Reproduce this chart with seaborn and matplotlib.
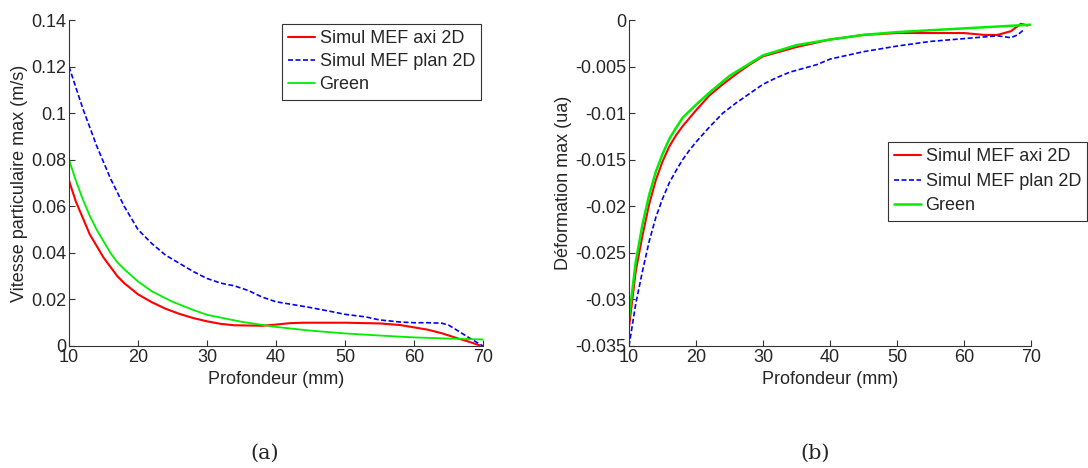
import matplotlib
matplotlib.use("Agg")
import matplotlib.pyplot as plt
import numpy as np
import pandas as pd
import seaborn as sns

# Valeurs
# (a) vitesse particulaire max (m/s) en fonction de la profondeur (mm)
prof_axi_a = [10, 11, 12, 13, 14, 15, 16, 17, 18, 20, 22, 24, 26, 28, 30, 32, 34, 36, 38, 40,
              42, 44, 46, 50, 55, 58, 60, 62, 64, 66, 68, 69.5]
vit_axi = [0.071, 0.062, 0.055, 0.048, 0.043, 0.038, 0.034, 0.030, 0.027, 0.0222, 0.0188,
           0.0160, 0.0138, 0.0120, 0.0106, 0.0095, 0.0089, 0.0088, 0.0087, 0.0092, 0.0098,
           0.0100, 0.0100, 0.0100, 0.0097, 0.0090, 0.0080, 0.0070, 0.0055, 0.0036, 0.0018,
           0.0003]
prof_plan_a = [10, 11, 12, 13, 14, 15, 16, 17, 18, 19, 20, 22, 24, 26, 28, 30, 32, 34, 36, 38,
               40, 42, 45, 48, 50, 53, 55, 58, 60, 62, 64, 65, 66, 68, 70]
vit_plan = [0.120, 0.111, 0.102, 0.094, 0.086, 0.079, 0.072, 0.066, 0.060, 0.055, 0.050,
            0.044, 0.039, 0.0355, 0.032, 0.029, 0.027, 0.0258, 0.0238, 0.021, 0.019, 0.018,
            0.0165, 0.0148, 0.0136, 0.0125, 0.0112, 0.0103, 0.0100, 0.0100, 0.0098, 0.0090,
            0.0072, 0.0035, 0.0]
prof_green_a = [10, 11, 12, 13, 14, 15, 16, 17, 18, 20, 22, 25, 28, 30, 35, 40, 45, 50, 55,
                60, 65, 70]
vit_green = [0.080, 0.071, 0.063, 0.056, 0.050, 0.045, 0.040, 0.036, 0.033, 0.0277, 0.0235,
             0.019, 0.0155, 0.0134, 0.0104, 0.0082, 0.0066, 0.0054, 0.0045, 0.0037, 0.0032,
             0.0028]

# (b) déformation max (ua) en fonction de la profondeur (mm)
prof_axi_b = [10, 11, 12, 13, 14, 15, 16, 17, 18, 20, 22, 24, 26, 28, 30, 35, 40, 45, 50, 55,
              60, 63, 65, 67, 68.5, 69.5]
def_axi = [-0.033, -0.027, -0.0232, -0.0198, -0.0172, -0.0152, -0.0136, -0.0124, -0.0114,
           -0.0097, -0.0081, -0.0069, -0.0058, -0.0048, -0.0039, -0.0029, -0.0021, -0.0016,
           -0.0014, -0.0014, -0.0014, -0.0016, -0.0016, -0.0012, -0.0004, -0.0006]
prof_plan_b = [10, 11, 12, 13, 14, 15, 16, 17, 18, 19, 20, 22, 24, 26, 28, 30, 32, 34, 36, 38,
               40, 45, 50, 55, 60, 65, 67, 68, 69]
def_plan = [-0.035, -0.0305, -0.027, -0.0238, -0.0212, -0.0192, -0.0175, -0.0162, -0.0150,
            -0.0140, -0.0131, -0.0115, -0.0100, -0.0089, -0.0079, -0.0069, -0.0062, -0.0056,
            -0.0052, -0.0048, -0.0042, -0.0034, -0.0028, -0.0023, -0.0020, -0.0017, -0.0019,
            -0.0016, -0.0010]
prof_green_b = [10, 11, 12, 13, 14, 15, 16, 17, 18, 20, 22, 25, 30, 35, 40, 45, 50, 55, 60,
                65, 70]
def_green = [-0.032, -0.026, -0.022, -0.0188, -0.0163, -0.0144, -0.0128, -0.0116, -0.0105,
             -0.0091, -0.0078, -0.0060, -0.0038, -0.0027, -0.0021, -0.0016, -0.0013, -0.0011,
             -0.0009, -0.0007, -0.0005]

labels = ["Simul MEF axi 2D", "Simul MEF plan 2D", "Green"]

sns.set_theme(style="white")
plt.rcParams["font.family"] = ["Liberation Sans", "DejaVu Sans"]
plt.rcParams["xtick.direction"] = "in"
plt.rcParams["ytick.direction"] = "in"

fig = plt.figure(figsize=(10.88, 4.68), dpi=100)
ax1 = fig.add_axes([69 / 1088, 1 - 346 / 468, 414 / 1088, 326 / 468])
ax2 = fig.add_axes([629 / 1088, 1 - 346 / 468, 402 / 1088, 326 / 468])


def trace(ax, xs, ys, lw_green):
    sns.lineplot(x=xs[0], y=ys[0], ax=ax, color="#ff0000", lw=1.5, label=labels[0])
    sns.lineplot(x=xs[1], y=ys[1], ax=ax, color="#0000ff", lw=1.2, ls=(0, (3, 1.5)),
                 label=labels[1])
    sns.lineplot(x=xs[2], y=ys[2], ax=ax, color="#00ee00", lw=lw_green, label=labels[2])
    ax.set_xlim(10, 70)
    ax.set_xticks(range(10, 71, 10))
    ax.set_xlabel("Profondeur (mm)", fontsize=13, labelpad=4)
    for s in ["top", "right"]:
        ax.spines[s].set_visible(False)
    for s in ["left", "bottom"]:
        ax.spines[s].set_color("#333333")
        ax.spines[s].set_linewidth(0.8)
    ax.tick_params(labelsize=13, length=4, width=0.8, color="#333333", pad=2,
                   left=True, bottom=True)


def legende(ax, x, y, spacing):
    leg = ax.legend(loc="upper left", bbox_to_anchor=(x / 1088, 1 - y / 468),
                    bbox_transform=fig.transFigure, fontsize=13, fancybox=False,
                    edgecolor="#333333", framealpha=1, handlelength=1.45,
                    handletextpad=0.28, labelspacing=spacing, borderpad=0.35,
                    borderaxespad=0)
    leg.get_frame().set_linewidth(0.8)


trace(ax1, [prof_axi_a, prof_plan_a, prof_green_a], [vit_axi, vit_plan, vit_green], 1.3)
ax1.set_ylim(0, 0.14)
ax1.set_yticks(np.arange(0, 0.141, 0.02))
ax1.set_yticklabels(["0", "0.02", "0.04", "0.06", "0.08", "0.1", "0.12", "0.14"])
ax1.set_ylabel("Vitesse particulaire max (m/s)", fontsize=13, labelpad=2)
legende(ax1, 282, 24, 0.33)

trace(ax2, [prof_axi_b, prof_plan_b, prof_green_b], [def_axi, def_plan, def_green], 1.8)
ax2.set_ylim(-0.035, 0)
ax2.set_yticks(np.arange(-0.035, 0.0001, 0.005))
ax2.set_yticklabels(["-0.035", "-0.03", "-0.025", "-0.02", "-0.015", "-0.01", "-0.005", "0"])
ax2.set_ylabel("Déformation max (ua)", fontsize=13, labelpad=2)
legende(ax2, 888, 142, 0.42)

fig.text(265 / 1088, 1 - 453 / 468, "(a)", fontsize=15, family="DejaVu Serif",
         ha="center", va="center")
fig.text(815 / 1088, 1 - 453 / 468, "(b)", fontsize=15, family="DejaVu Serif",
         ha="center", va="center")

fig.savefig("out.png", dpi=100)
